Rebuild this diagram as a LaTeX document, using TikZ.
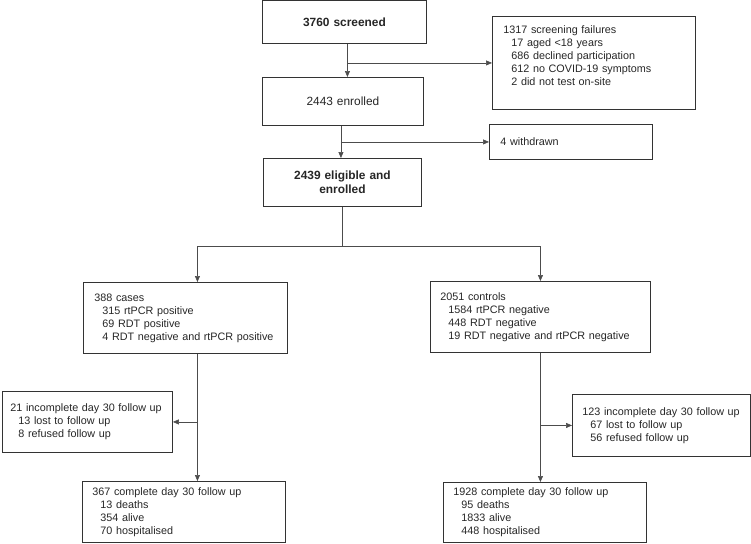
\documentclass[tikz,border=0pt]{standalone}
\usepackage{fontspec}
\setmainfont{Liberation Sans}
\usetikzlibrary{arrows.meta}
\newcommand{\subln}{\hspace*{8pt}}
\newcommand{\stack}[1]{\begin{tabular}{@{}l@{}}#1\end{tabular}}

\begin{document}
\begin{tikzpicture}[x=1pt,y=-1pt,
  box/.style={draw=black!80, line width=0.9pt, anchor=north west, text=black!85,
    inner ysep=0pt, align=left, font=\fontsize{10.8}{13}\selectfont},
  head/.style={box, align=center, inner xsep=0pt, font=\fontsize{11.9}{14.5}\selectfont},
  bold/.style={font=\bfseries\fontsize{11.9}{14.5}\selectfont},
  link/.style={draw=black!70, line width=0.6pt},
  arr/.style={link, -{Triangle[length=6pt,width=5pt]}}]
\useasboundingbox (0,0) rectangle (751,543);

\node[head, bold, text width=164pt, minimum height=42.5pt] (screened) at (262,0.5) {3760 screened};
\node[head, text width=161pt, minimum height=48pt] (enrolled) at (262,77) {2443 enrolled};
\node[head, bold, text width=158pt, minimum height=48pt] (eligible) at (263,158) {2439 eligible and\\enrolled};

\node[box, inner xsep=11pt, text width=181pt, minimum height=93pt] (fail) at (492,16)
  {\stack{1317 screening failures\\\subln 17 aged <18 years\\\subln 686 declined participation\\\subln 612 no COVID-19 symptoms\\\subln 2 did not test on-site\\\mbox{}}};
\node[box, inner xsep=11pt, text width=141pt, minimum height=35pt] (withdrawn) at (489,124) {4 withdrawn};

\node[box, inner xsep=11pt, text width=182pt, minimum height=71pt] (cases) at (83,282)
  {\stack{388 cases\\\subln 315 rtPCR positive\\\subln 69 RDT positive\\\subln 4 RDT negative and rtPCR positive}};
\node[box, inner xsep=10pt, text width=200pt, minimum height=71pt] (controls) at (430,281)
  {\stack{2051 controls\\\subln 1584 rtPCR negative\\\subln 448 RDT negative\\\subln 19 RDT negative and rtPCR negative}};

\node[box, inner xsep=8pt, text width=154pt, minimum height=61pt] (inc1) at (2,391)
  {\stack{21 incomplete day 30 follow up\\\subln 13 lost to follow up\\\subln 8 refused follow up}};
\node[box, inner xsep=10pt, text width=158pt, minimum height=62pt] (inc2) at (572,394)
  {\stack{123 incomplete day 30 follow up\\\subln 67 lost to follow up\\\subln 56 refused follow up}};

\node[box, inner xsep=10pt, text width=183pt, minimum height=61pt] (done1) at (82,481)
  {\stack{367 complete day 30 follow up\\\subln 13 deaths\\\subln 354 alive\\\subln 70 hospitalised}};
\node[box, inner xsep=10pt, text width=183pt, minimum height=60pt] (done2) at (443,482)
  {\stack{1928 complete day 30 follow up\\\subln 95 deaths\\\subln 1833 alive\\\subln 448 hospitalised}};

\draw[arr] ([xshift=3pt]screened.south) -- ([xshift=3pt]screened.south |- enrolled.north);
\draw[arr] ([xshift=3pt]screened.south |- fail.west) -- (fail.west);
\draw[arr] ([xshift=-2pt]enrolled.south) -- ([xshift=-2pt]enrolled.south |- eligible.north);
\draw[arr] ([xshift=-2pt]enrolled.south |- withdrawn.west) -- (withdrawn.west);

\coordinate (split) at ([yshift=-39pt]eligible.south);
\draw[link] (eligible.south) -- (split);
\draw[arr] (split) -| ([xshift=12pt]cases.north);
\draw[arr] (split) -| (controls.north);

\draw[arr] ([xshift=12pt]cases.south) -- ([xshift=12pt]cases.south |- done1.north);
\draw[arr] ([xshift=12pt]cases.south |- inc1.east) -- (inc1.east);
\draw[arr] (controls.south) -- (controls.south |- done2.north);
\draw[arr] (controls.south |- inc2.west) -- (inc2.west);
\end{tikzpicture}
\end{document}
